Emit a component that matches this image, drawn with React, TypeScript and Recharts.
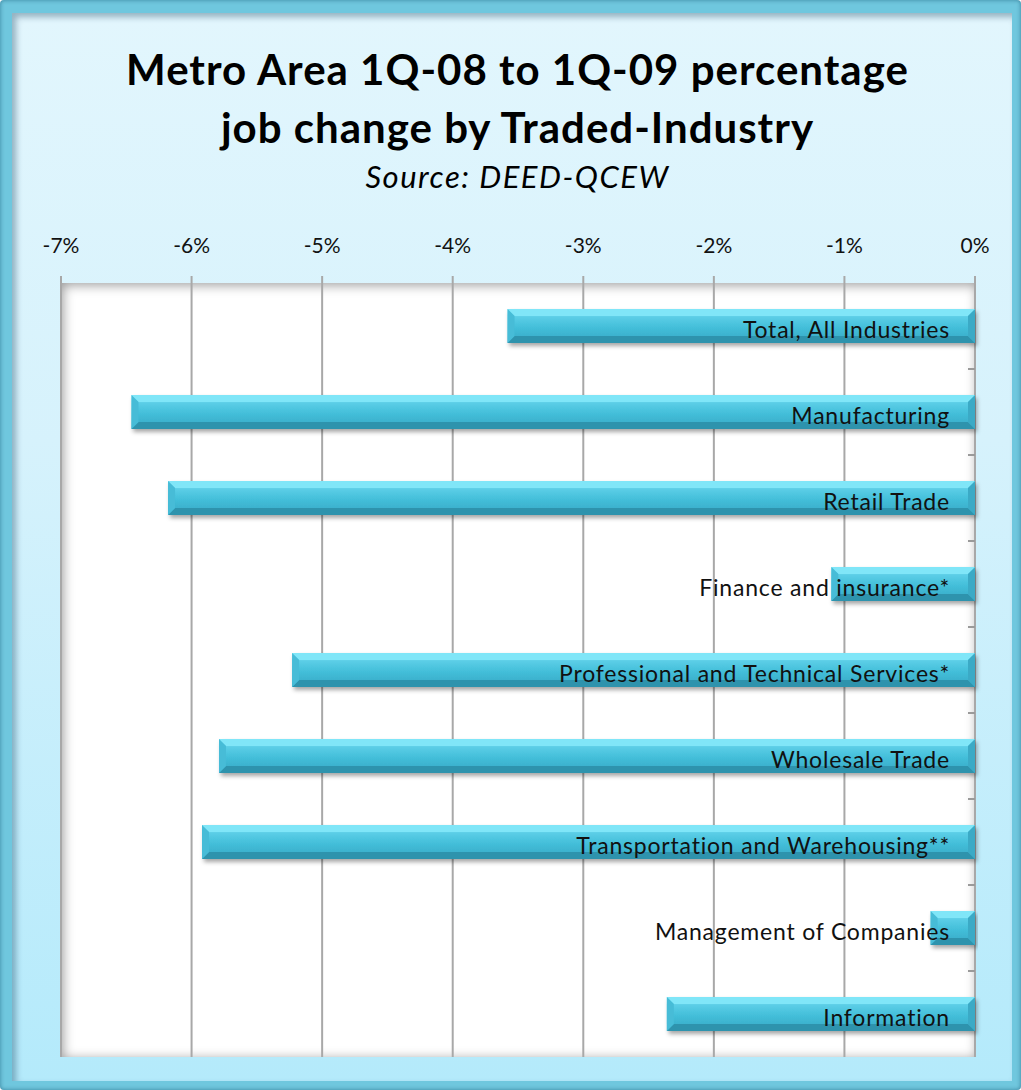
import { BarChart, Bar, XAxis, YAxis, CartesianGrid, LabelList } from 'recharts';

const categories = [
  'Total, All Industries',
  'Manufacturing',
  'Retail Trade',
  'Finance and insurance*',
  'Professional and Technical Services*',
  'Wholesale Trade',
  'Transportation and Warehousing**',
  'Management of Companies',
  'Information',
];
const changes = [-3.58, -6.46, -6.18, -1.1, -5.23, -5.79, -5.92, -0.34, -2.36];
const pctTicks = [-7, -6, -5, -4, -3, -2, -1, 0];

const data = categories.map((name, i) => ({ name, value: changes[i] }));

const FONT = 'Lato, "Open Sans", sans-serif';

function BevelBar(props: any) {
  const { x, y, width, height } = props;
  const left = Math.min(x, x + width);
  const w = Math.abs(width);
  const h = height;
  const b = Math.min(7, w / 2, h / 2);
  return (
    <g filter="url(#barShadow)">
      <rect x={left} y={y} width={w} height={h} fill="url(#barFace)" />
      <polygon points={`${left},${y} ${left + w},${y} ${left + w - b},${y + b} ${left + b},${y + b}`} fill="#80e6f8" />
      <polygon points={`${left},${y + h} ${left + w},${y + h} ${left + w - b},${y + h - b} ${left + b},${y + h - b}`} fill="#2f93ad" />
      <polygon points={`${left},${y} ${left + b},${y + b} ${left + b},${y + h - b} ${left},${y + h}`} fill="#46bcd7" />
      <polygon points={`${left + w},${y} ${left + w - b},${y + b} ${left + w - b},${y + h - b} ${left + w},${y + h}`} fill="#3aaac6" />
    </g>
  );
}

function InsideLabel(props: any) {
  const { x, y, width, height, value } = props;
  const right = Math.max(x, x + width);
  return (
    <text
      x={right - 25}
      y={y + height / 2 + 12}
      textAnchor="end"
      fontSize={23}
      letterSpacing={0.8}
      fontFamily={FONT}
      fill="#111"
    >
      {value}
    </text>
  );
}

// small tick marks between categories, drawn at the band boundaries
function boundaryTick(props: any) {
  const { x, y, payload } = props;
  const idx = props.index ?? payload?.index;
  if (idx === 0) return <g />;
  const yy = Number(y) - Number(payload?.offset ?? 0);
  return <line x1={Number(x) - 7} x2={Number(x)} y1={yy} y2={yy} stroke="#9a9a9a" strokeWidth={2} />;
}

export default function App() {
  return (
    <div style={{ position: 'relative', width: 1021, height: 1090, fontFamily: FONT }}>
      <style>{'body{margin:0}'}</style>
      <div
        style={{
          position: 'absolute',
          inset: 0,
          background: '#6fc7de',
          borderRadius: 4,
          boxShadow: 'inset 0 0 4px rgba(0,60,90,0.5)',
        }}
      />
      <div
        style={{
          position: 'absolute',
          left: 12,
          top: 13,
          right: 9,
          bottom: 9,
          background: 'linear-gradient(to bottom, #e2f6fd 0%, #d6f2fc 40%, #b4eafb 100%)',
          boxShadow: 'inset 4px 4px 6px rgba(0,50,80,0.35)',
        }}
      />
      <div
        style={{
          position: 'absolute',
          left: 61,
          top: 283,
          width: 914,
          height: 774,
          background: '#fff',
          boxShadow: 'inset 2px 2px 12px rgba(0,0,0,0.4)',
        }}
      />
      <div style={{ position: 'absolute', left: 0, width: 1035, top: 40, textAlign: 'center', color: '#000' }}>
        <div style={{ fontWeight: 700, fontSize: 42, lineHeight: '58px', letterSpacing: 1 }}>
          Metro Area 1Q-08 to 1Q-09 percentage
        </div>
        <div style={{ fontWeight: 700, fontSize: 42, lineHeight: '58px', letterSpacing: 1 }}>
          job change by Traded-Industry
        </div>
        <div style={{ fontStyle: 'italic', fontSize: 31, lineHeight: '40px', letterSpacing: 1.5 }}>Source: DEED-QCEW</div>
      </div>
      <div style={{ position: 'absolute', left: 0, top: 0 }}>
        <BarChart
          width={1021}
          height={1090}
          data={data}
          layout="vertical"
          margin={{ top: 243, right: 46, bottom: 33, left: 61 }}
          barSize={34}
        >
          <defs>
            <linearGradient id="barFace" x1="0" y1="0" x2="0" y2="1">
              <stop offset="0%" stopColor="#80e6f8" />
              <stop offset="25%" stopColor="#5acde6" />
              <stop offset="55%" stopColor="#43bed9" />
              <stop offset="100%" stopColor="#36a8c4" />
            </linearGradient>
            <filter id="barShadow" x="-5%" y="-30%" width="110%" height="180%">
              <feDropShadow dx="2" dy="3" stdDeviation="2" floodColor="#000" floodOpacity="0.35" />
            </filter>
          </defs>
          <CartesianGrid horizontal={false} stroke="#a8a8a8" strokeWidth={2} />
          <XAxis
            type="number"
            orientation="top"
            domain={[-7, 0]}
            ticks={pctTicks}
            height={40}
            tickFormatter={(v: number) => `${v}%`}
            axisLine={false}
            tickLine={{ stroke: '#a8a8a8', strokeWidth: 2 }}
            tickSize={7}
            tickMargin={23}
            tick={{ fontSize: 21, fill: '#111', fontFamily: FONT }}
            interval={0}
          />
          <YAxis
            type="category"
            dataKey="name"
            orientation="right"
            mirror
            width={1}
            axisLine={false}
            tickLine={false}
            tickSize={0}
            tickMargin={0}
            interval={0}
            tick={boundaryTick}
          />
          <Bar dataKey="value" shape={<BevelBar />} isAnimationActive={false}>
            <LabelList dataKey="name" content={<InsideLabel />} />
          </Bar>
        </BarChart>
      </div>
    </div>
  );
}
